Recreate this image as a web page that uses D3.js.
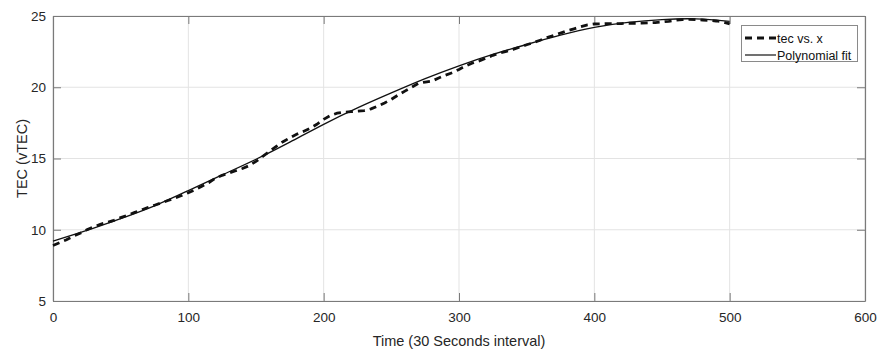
<!DOCTYPE html>
<html><head><meta charset="utf-8">
<script src="https://cdn.jsdelivr.net/npm/d3@7"></script>
<style>body{margin:0;background:#fff;}svg{display:block;font-family:"Liberation Sans",Arial,sans-serif;}</style>
</head><body><svg id="c" width="878" height="352"></svg>
<script>
// measured series (tec vs. x)
const tecX = [0,5,10,15,20,25,30,35,40,45,50,55,60,65,70,75,80,85,90,95,100,105,110,115,120,125,130,135,140,145,150,155,160,165,170,175,180,185,190,195,200,205,210,215,220,225,230,235,240,245,250,255,260,265,270,275,280,285,290,295,300,305,310,315,320,325,330,335,340,345,350,355,360,365,370,375,380,385,390,395,400,405,410,415,420,425,430,435,440,445,450,455,460,465,470,475,480,485,490,495,500];
const tecY = [8.9,9.1,9.3,9.55,9.75,10.0,10.2,10.38,10.52,10.66,10.85,11.02,11.2,11.38,11.56,11.72,11.88,12.05,12.22,12.4,12.6,12.8,13.05,13.3,13.62,13.82,13.98,14.14,14.3,14.5,14.8,15.15,15.5,15.85,16.18,16.45,16.7,16.9,17.12,17.4,17.75,18.02,18.18,18.25,18.29,18.32,18.36,18.48,18.68,18.9,19.15,19.45,19.73,20.0,20.28,20.36,20.43,20.65,20.85,21.02,21.25,21.5,21.7,21.85,22.04,22.24,22.4,22.52,22.66,22.82,22.98,23.13,23.3,23.48,23.64,23.8,23.96,24.1,24.25,24.38,24.44,24.45,24.47,24.47,24.47,24.49,24.49,24.5,24.52,24.54,24.58,24.63,24.7,24.75,24.77,24.75,24.72,24.69,24.65,24.58,24.45];
// polynomial fit
const fitX = [0,25,50,75,100,125,150,175,200,225,250,275,300,325,350,375,400,425,450,475,500];
const fitY = [9.2,9.95,10.78,11.68,12.75,13.85,14.95,16.15,17.4,18.55,19.6,20.6,21.5,22.3,23.0,23.65,24.2,24.55,24.75,24.8,24.62];
const xTicks = [0,100,200,300,400,500,600];
const yTicks = [5,10,15,20,25];
const legendLabels = ["tec vs. x","Polynomial fit"];

const svg = d3.select("#c");
const L=53, T=16, R=865, B=301;
const x = d3.scaleLinear().domain([0,600]).range([L,R]);
const y = d3.scaleLinear().domain([5,25]).range([B,T]);
const axisCol="#7a7a7a", txtCol="#262626";

// grid
svg.append("g").selectAll("line").data(xTicks).join("line")
  .attr("x1",d=>x(d)).attr("x2",d=>x(d)).attr("y1",T).attr("y2",B)
  .attr("stroke","#e3e3e3").attr("stroke-width",1);
svg.append("g").selectAll("line").data(yTicks).join("line")
  .attr("y1",d=>y(d)).attr("y2",d=>y(d)).attr("x1",L).attr("x2",R)
  .attr("stroke","#e3e3e3").attr("stroke-width",1);

// axes
const tl=8;
const gx = svg.append("g").attr("transform",`translate(0,${B})`)
  .call(d3.axisBottom(x).tickValues(xTicks).tickSizeInner(-tl).tickSizeOuter(0).tickPadding(11));
const gxt = svg.append("g").attr("transform",`translate(0,${T})`)
  .call(d3.axisTop(x).tickValues(xTicks).tickSizeInner(-tl).tickSizeOuter(0).tickFormat(""));
const gy = svg.append("g").attr("transform",`translate(${L},0)`)
  .call(d3.axisLeft(y).tickValues(yTicks).tickSizeInner(-tl).tickSizeOuter(0).tickPadding(7));
const gyr = svg.append("g").attr("transform",`translate(${R},0)`)
  .call(d3.axisRight(y).tickValues(yTicks).tickSizeInner(-tl).tickSizeOuter(0).tickFormat(""));
[gx,gxt,gy,gyr].forEach(g=>{
  g.select(".domain").attr("stroke",axisCol).attr("stroke-width",1.2);
  g.selectAll(".tick line").attr("stroke",axisCol).attr("stroke-width",1);
  g.selectAll(".tick text").attr("fill",txtCol).style("font-size","13.5px").style("font-family","'Liberation Sans',Arial,sans-serif");
});

// lines
const line = d3.line().x(d=>x(d[0])).y(d=>y(d[1]));
svg.append("path").datum(fitX.map((v,i)=>[v,fitY[i]]))
  .attr("d",line.curve(d3.curveNatural)).attr("fill","none").attr("stroke","#111").attr("stroke-width",1.3);
svg.append("path").datum(tecX.map((v,i)=>[v,tecY[i]]))
  .attr("d",d3.line().x(d=>x(d[0])).y(d=>y(d[1]))).attr("fill","none").attr("stroke","#111")
  .attr("stroke-width",2.8).attr("stroke-dasharray","7,5");

// axis labels
svg.append("text").attr("x",(L+R)/2).attr("y",346).attr("text-anchor","middle")
  .attr("fill",txtCol).style("font-size","14.5px").text("Time (30 Seconds interval)");
svg.append("text").attr("transform",`translate(27,${(T+B)/2}) rotate(-90)`).attr("text-anchor","middle")
  .attr("fill",txtCol).style("font-size","14.5px").text("TEC (vTEC)");

// legend
const lg = svg.append("g");
lg.append("rect").attr("x",741.5).attr("y",25.5).attr("width",116).attr("height",36)
  .attr("fill","#fff").attr("stroke","#8a8a8a").attr("stroke-width",1);
const ly=[38,55];
lg.append("line").attr("x1",745).attr("x2",776).attr("y1",ly[0]).attr("y2",ly[0])
  .attr("stroke","#111").attr("stroke-width",2.8).attr("stroke-dasharray","7,5");
lg.append("line").attr("x1",745).attr("x2",776).attr("y1",ly[1]).attr("y2",ly[1])
  .attr("stroke","#111").attr("stroke-width",1.2);
lg.selectAll("text").data(legendLabels).join("text").attr("x",777).attr("y",(d,i)=>ly[i]+4.5)
  .attr("fill","#111").style("font-size","12.5px").text(d=>d);
</script></body></html>
